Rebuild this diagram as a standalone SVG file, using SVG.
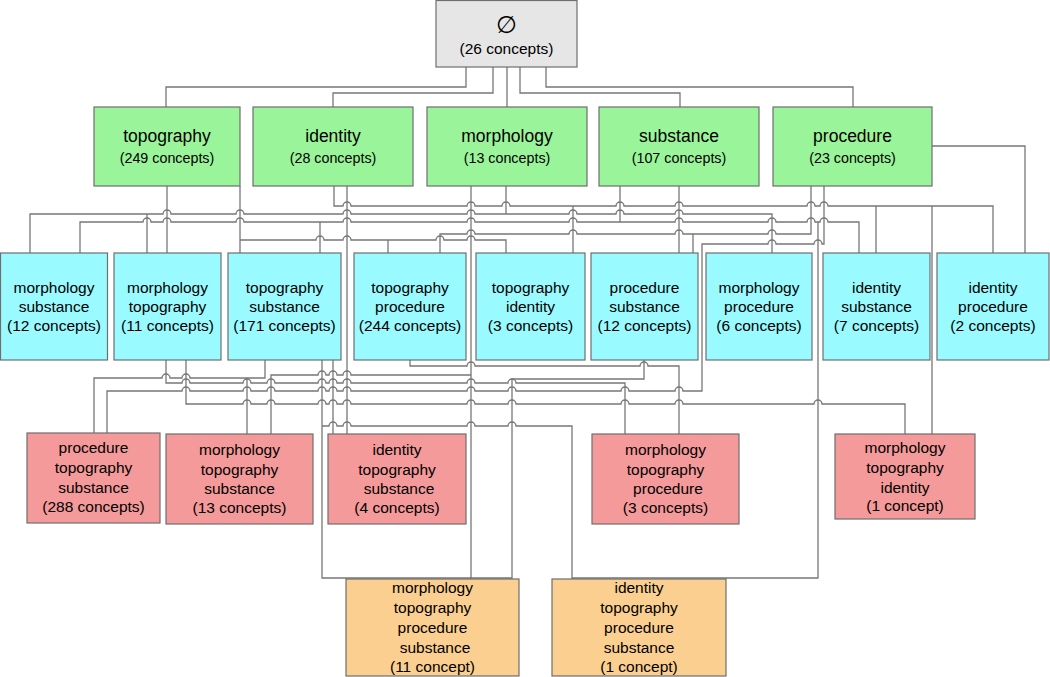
<svg xmlns="http://www.w3.org/2000/svg" width="1050" height="677" viewBox="0 0 1050 677">
<style>
.b{stroke:#6e6e6e;stroke-width:1.2}
.g0{fill:#e6e6e6}.g1{fill:#9af59a}.g2{fill:#99fbff}.g3{fill:#f49a9a}.g4{fill:#fbcf8f}
text{font-family:"Liberation Sans",Arial,"DejaVu Sans",sans-serif;font-size:15.5px;fill:#000;text-anchor:middle}
.h{font-size:17.5px}.c{font-size:14.3px}.e{font-size:24px}
#edges path{fill:none;stroke:#777;stroke-width:1.3}
</style>
<g id="edges">
<path d="M466 67V87H166V107M493 67V93H333V107M507 67V107M520 67V93H680V107M546 67V87H853V107"/>
<path d="M167 186V253"/>
<path d="M240 186V253M240 240H316a4 4 0 0 1 8 0H343a4 4 0 0 1 8 0H436a4 4 0 0 1 8 0H467a4 4 0 0 1 8 0H506V253M388 240V253"/>
<path d="M334 186V206H343a4 4 0 0 1 8 0H467a4 4 0 0 1 8 0H502a4 4 0 0 1 8 0H616a4 4 0 0 1 8 0H675a4 4 0 0 1 8 0H807a4 4 0 0 1 8 0H820a4 4 0 0 1 8 0H993V253M573 206V253M876 206V253M932 206V434"/>
<path d="M347 186V434"/>
<path d="M471 186V579"/>
<path d="M506 186V214M30 253V214H163a4 4 0 0 1 8 0H236a4 4 0 0 1 8 0H343a4 4 0 0 1 8 0H467a4 4 0 0 1 8 0H569a4 4 0 0 1 8 0H616a4 4 0 0 1 8 0H675a4 4 0 0 1 8 0H772V253M147 214V253"/>
<path d="M620 186V222M80 253V222H143a4 4 0 0 1 8 0H163a4 4 0 0 1 8 0H236a4 4 0 0 1 8 0H343a4 4 0 0 1 8 0H467a4 4 0 0 1 8 0H569a4 4 0 0 1 8 0H675a4 4 0 0 1 8 0H768a4 4 0 0 1 8 0H807a4 4 0 0 1 8 0H820a4 4 0 0 1 8 0H859V253M320 222V253"/>
<path d="M818 222V578H572"/>
<path d="M679 186V253"/>
<path d="M811 186V234H776a4 4 0 0 0 -8 0H683a4 4 0 0 0 -8 0H577a4 4 0 0 0 -8 0H475a4 4 0 0 0 -8 0H440V253M693 234V253"/>
<path d="M824 186V244H822a4 4 0 0 0 -8 0H776a4 4 0 0 0 -8 0H702V391H683a4 4 0 0 0 -8 0H629a4 4 0 0 0 -8 0H516a4 4 0 0 0 -8 0H475a4 4 0 0 0 -8 0H351a4 4 0 0 0 -8 0H337a4 4 0 0 0 -8 0H326a4 4 0 0 0 -8 0H275a4 4 0 0 0 -8 0H251a4 4 0 0 0 -8 0H190a4 4 0 0 0 -8 0H107V433"/>
<path d="M932 146H1025V253"/>
<path d="M265 360V378H190a4 4 0 0 0 -8 0H170a4 4 0 0 0 -8 0H94V433M247 378V434"/>
<path d="M322 360V578H512M322 426H329a4 4 0 0 1 8 0H343a4 4 0 0 1 8 0H467a4 4 0 0 1 8 0H508a4 4 0 0 1 8 0H572V579"/>
<path d="M333 360V434"/>
<path d="M166 360V383H182a4 4 0 0 1 8 0H243a4 4 0 0 1 8 0H267a4 4 0 0 1 8 0H318a4 4 0 0 1 8 0H329a4 4 0 0 1 8 0H343a4 4 0 0 1 8 0H467a4 4 0 0 1 8 0H508a4 4 0 0 1 8 0H625V434"/>
<path d="M186 360V404H243a4 4 0 0 1 8 0H267a4 4 0 0 1 8 0H318a4 4 0 0 1 8 0H329a4 4 0 0 1 8 0H343a4 4 0 0 1 8 0H467a4 4 0 0 1 8 0H508a4 4 0 0 1 8 0H621a4 4 0 0 1 8 0H675a4 4 0 0 1 8 0H814a4 4 0 0 1 8 0H905V434"/>
<path d="M471 375H351a4 4 0 0 0 -8 0H337a4 4 0 0 0 -8 0H326a4 4 0 0 0 -8 0H271V434"/>
<path d="M410 360V366H467a4 4 0 0 1 8 0H640a4 4 0 0 1 8 0H679V434"/>
<path d="M644 360V379H512V579"/>
</g>
<g id="n_empty"><rect class="b g0" x="436" y="0.5" width="141" height="66.5"/><text class="e" x="506.5" y="33">∅</text><text x="506.5" y="54">(26 concepts)</text></g>
<g id="n_topography"><rect class="b g1" x="94" y="107" width="146" height="79"/><text class="h" x="167" y="142">topography</text><text class="c" x="167" y="163">(249 concepts)</text></g>
<g id="n_identity"><rect class="b g1" x="253" y="107" width="160" height="79"/><text class="h" x="333" y="142">identity</text><text class="c" x="333" y="163">(28 concepts)</text></g>
<g id="n_morphology"><rect class="b g1" x="427" y="107" width="160" height="79"/><text class="h" x="507" y="142">morphology</text><text class="c" x="507" y="163">(13 concepts)</text></g>
<g id="n_substance"><rect class="b g1" x="599" y="107" width="160" height="79"/><text class="h" x="679" y="142">substance</text><text class="c" x="679" y="163">(107 concepts)</text></g>
<g id="n_procedure"><rect class="b g1" x="773" y="107" width="159" height="79"/><text class="h" x="852.5" y="142">procedure</text><text class="c" x="852.5" y="163">(23 concepts)</text></g>
<g id="n_ms"><rect class="b g2" x="0.5" y="253" width="107" height="107"/><text x="54" y="293">morphology</text><text x="54" y="312">substance</text><text x="54" y="331">(12 concepts)</text></g>
<g id="n_mt"><rect class="b g2" x="114" y="253" width="107" height="107"/><text x="167.5" y="293">morphology</text><text x="167.5" y="312">topography</text><text x="167.5" y="331">(11 concepts)</text></g>
<g id="n_ts"><rect class="b g2" x="228" y="253" width="113" height="107"/><text x="284.5" y="293">topography</text><text x="284.5" y="312">substance</text><text x="284.5" y="331">(171 concepts)</text></g>
<g id="n_tp"><rect class="b g2" x="354" y="253" width="112" height="107"/><text x="410" y="293">topography</text><text x="410" y="312">procedure</text><text x="410" y="331">(244 concepts)</text></g>
<g id="n_ti"><rect class="b g2" x="476" y="253" width="109" height="107"/><text x="530.5" y="293">topography</text><text x="530.5" y="312">identity</text><text x="530.5" y="331">(3 concepts)</text></g>
<g id="n_ps"><rect class="b g2" x="591" y="253" width="107" height="107"/><text x="644.5" y="293">procedure</text><text x="644.5" y="312">substance</text><text x="644.5" y="331">(12 concepts)</text></g>
<g id="n_mp"><rect class="b g2" x="706" y="253" width="106" height="107"/><text x="759" y="293">morphology</text><text x="759" y="312">procedure</text><text x="759" y="331">(6 concepts)</text></g>
<g id="n_is"><rect class="b g2" x="823" y="253" width="107" height="107"/><text x="876.5" y="293">identity</text><text x="876.5" y="312">substance</text><text x="876.5" y="331">(7 concepts)</text></g>
<g id="n_ip"><rect class="b g2" x="937" y="253" width="112" height="107"/><text x="993" y="293">identity</text><text x="993" y="312">procedure</text><text x="993" y="331">(2 concepts)</text></g>
<g id="n_pts"><rect class="b g3" x="27" y="433" width="133" height="90"/><text x="93.5" y="453">procedure</text><text x="93.5" y="473">topography</text><text x="93.5" y="493">substance</text><text x="93.5" y="512">(288 concepts)</text></g>
<g id="n_mts"><rect class="b g3" x="166" y="434" width="147" height="90"/><text x="239.5" y="455">morphology</text><text x="239.5" y="475">topography</text><text x="239.5" y="494">substance</text><text x="239.5" y="513">(13 concepts)</text></g>
<g id="n_its"><rect class="b g3" x="328" y="434" width="138" height="90"/><text x="397" y="455">identity</text><text x="397" y="475">topography</text><text x="399" y="494">substance</text><text x="397" y="513">(4 concepts)</text></g>
<g id="n_mtp"><rect class="b g3" x="592" y="434" width="147" height="90"/><text x="665.5" y="455">morphology</text><text x="665.5" y="475">topography</text><text x="668" y="494">procedure</text><text x="665.5" y="513">(3 concepts)</text></g>
<g id="n_mti"><rect class="b g3" x="835" y="434" width="140" height="85"/><text x="905" y="453">morphology</text><text x="905" y="473">topography</text><text x="905" y="493">identity</text><text x="905" y="511">(1 concept)</text></g>
<g id="n_mtps"><rect class="b g4" x="346" y="579" width="173" height="97"/><text x="432.5" y="593">morphology</text><text x="432.5" y="613">topography</text><text x="432.5" y="633">procedure</text><text x="435" y="653">substance</text><text x="432.5" y="672">(11 concept)</text></g>
<g id="n_itps"><rect class="b g4" x="552" y="579" width="174" height="97"/><text x="639" y="593">identity</text><text x="639" y="613">topography</text><text x="639" y="633">procedure</text><text x="639" y="653">substance</text><text x="639" y="672">(1 concept)</text></g>
</svg>
